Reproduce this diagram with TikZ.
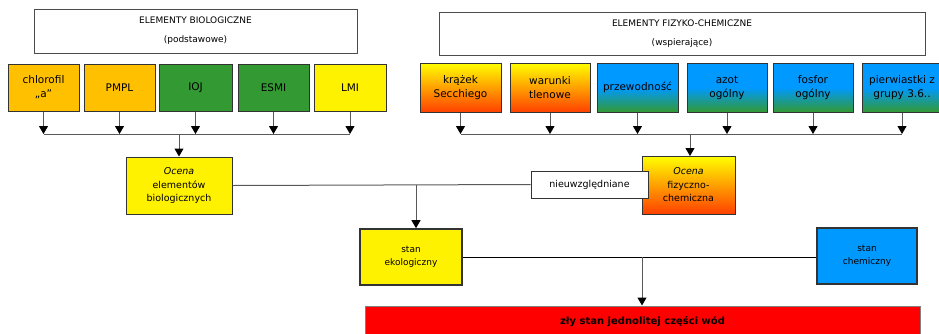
\documentclass[tikz,border=0pt]{standalone}
\usepackage{fontspec}
\setmainfont{DejaVu Sans}
\usetikzlibrary{arrows.meta}
\definecolor{bioorange}{RGB}{255,192,0}
\definecolor{biogreen}{RGB}{51,153,51}
\definecolor{chemblue}{RGB}{0,153,255}
\definecolor{hotred}{RGB}{255,64,0}

\begin{document}
\begin{tikzpicture}[x=1pt,y=-1pt,>={Triangle[length=8pt,width=9pt,color=black]},
  box/.style={draw=black!80,line width=1pt,align=center,inner sep=1pt,font=\fontsize{9.5}{13.5}\selectfont},
  title/.style={box,draw=black!70,font=\fontsize{9}{19}\selectfont},
  elem/.style={box,minimum width=71pt,minimum height=47pt,font=\fontsize{10.5}{14}\selectfont},
  link/.style={draw=black!65,line width=1pt},
  hot/.style={top color=yellow,bottom color=hotred},
  cool/.style={top color=chemblue,bottom color=biogreen,middle color=chemblue}]
  \useasboundingbox (0,0) rectangle (939,333);

  % headers
  \node[title,minimum width=323pt,minimum height=44pt] (biotitle) at (195.5,31) {ELEMENTY BIOLOGICZNE\\(podstawowe)};
  \node[title,minimum width=486pt,minimum height=43pt] (fiztitle) at (682,33.5) {ELEMENTY FIZYKO-CHEMICZNE\\(wspierające)};

  % biological elements
  \node[elem,fill=bioorange] (chl) at (43.5,87.5) {chlorofil\\„a”};
  \node[elem,fill=bioorange] (pmpl) at (119.5,87.5) {PMPL};
  \node[elem,fill=biogreen,minimum width=73pt] (ioj) at (195.5,87.5) {IOJ};
  \node[elem,fill=biogreen] (esmi) at (273.5,87.5) {ESMI};
  \node[elem,fill=yellow,minimum width=72pt] (lmi) at (350,87.5) {LMI};

  % physico-chemical elements
  \node[elem,hot,minimum width=81pt,minimum height=49pt] (krazek) at (460.5,87.5) {krążek\\Secchiego};
  \node[elem,hot,minimum width=80pt,minimum height=49pt] (tlen) at (550,87.5) {warunki\\tlenowe};
  \node[elem,cool,minimum width=81pt,minimum height=49pt] (przew) at (637.5,87.5) {przewodność};
  \node[elem,cool,minimum width=80pt,minimum height=49pt] (azot) at (727,87.5) {azot\\ogólny};
  \node[elem,cool,minimum width=80pt,minimum height=49pt] (fosfor) at (813,87.5) {fosfor\\ogólny};
  \node[elem,cool,minimum width=80pt,minimum height=49pt] (pierw) at (902,87.5) {pierwiastki z\\grupy 3.6..};

  \coordinate (lbar) at (0,134);
  \coordinate (rbar) at (0,134);
  \foreach \n in {chl,pmpl,ioj,esmi,lmi}{
    \draw[link,->] (\n.south) -- (\n.south |- lbar);
  }
  \foreach \n in {krazek,tlen,przew,azot,fosfor,pierw}{
    \draw[link,->] (\n.south) -- (\n.south |- rbar);
  }
  \draw[link] (chl.south |- lbar) -- (lmi.south |- lbar);
  \draw[link] (krazek.south |- rbar) -- (pierw.south |- rbar);

  % assessments
  \node[box,fill=yellow,minimum width=106pt,minimum height=57pt] (ocbio) at (179,185.5) {\textit{Ocena}\\elementów\\biologicznych};
  \node[box,hot,minimum width=93pt,minimum height=58pt] (ocfiz) at (688.5,185) {\textit{Ocena}\\fizyczno-\\chemiczna};
  \node[box,fill=white,minimum width=117pt,minimum height=27pt] (nieuw) at (589.5,184.5) {nieuwzględniane};
  \draw[link,->] (ocbio.north |- lbar) -- (ocbio.north);
  \draw[link,->] (690,134) -- (690,156);

  % status
  \node[box,fill=yellow,line width=1.6pt,minimum width=102pt,minimum height=56pt,font=\fontsize{9}{13}\selectfont] (sek) at (411,257) {stan\\ekologiczny};
  \node[box,fill=chemblue,line width=1.6pt,minimum width=100pt,minimum height=56pt,font=\fontsize{9}{13}\selectfont] (sch) at (867,256) {stan\\chemiczny};
  \node[box,fill=red,draw=black!50,minimum width=555pt,minimum height=32pt,font=\fontsize{10}{12}\bfseries] (zly) at (642.5,322) {zły stan jednolitej części wód};

  \coordinate (split) at (416,185);
  \coordinate (merge) at (642,257);
  \draw[link] (ocbio.east) -- (nieuw.west);
  \draw[link,->] (split) -- (split |- sek.north);
  \draw[line width=1pt] (sek.east) -- (sek.east -| sch.west);
  \draw[link,->] (merge) -- (merge |- zly.north);
\end{tikzpicture}
\end{document}
